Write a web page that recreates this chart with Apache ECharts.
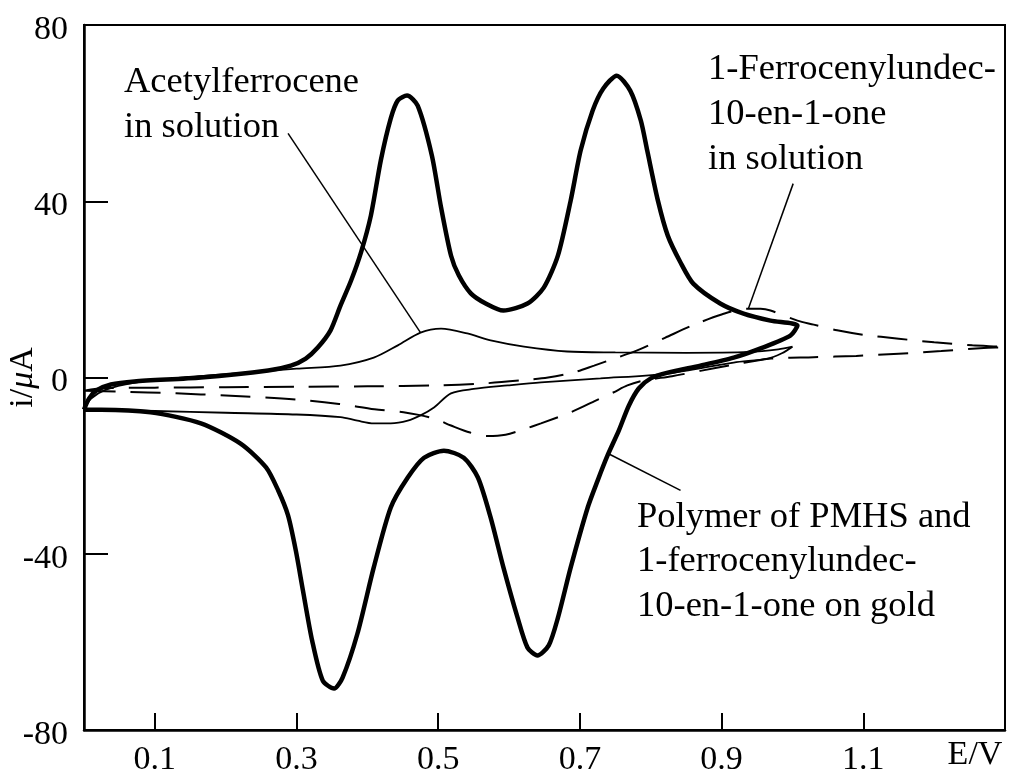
<!DOCTYPE html>
<html><head><meta charset="utf-8">
<script src="https://cdn.jsdelivr.net/npm/echarts@6/dist/echarts.min.js"></script>
<style>html,body{margin:0;padding:0;background:#fff}#c{width:1009px;height:776px}</style>
</head><body><div id="c"></div>
<script>
// ---- tick values ----
const xTicks = [0.1, 0.3, 0.5, 0.7, 0.9, 1.1];
const yTicks = [-80, -40, 0, 40, 80];

// ---- Polymer of PMHS and 1-ferrocenylundec-10-en-1-one on gold (thick) ----
const polyE = [0.000,0.007,0.017,0.038,0.071,0.165,0.260,0.292,0.313,0.330,0.348,0.362,0.377,0.391,0.405,0.419,0.433,0.443,0.456,0.471,0.491,0.504,0.518,0.529,0.546,0.567,0.592,0.626,0.649,0.669,0.687,0.701,0.718,0.733,0.752,0.771,0.786,0.795,0.810,0.824,0.842,0.860,0.898,0.931,0.969,1.007,
               0.997,0.955,0.917,0.870,0.824,0.800,0.783,0.769,0.755,0.739,0.725,0.711,0.687,0.669,0.656,0.640,0.626,0.612,0.592,0.574,0.556,0.536,0.508,0.480,0.457,0.433,0.409,0.386,0.365,0.353,0.337,0.322,0.309,0.299,0.288,0.274,0.257,0.221,0.165,0.094,0.024,0.000];
const polyI = [-7.3,-4.8,-3.0,-1.6,-0.9,0.0,1.6,2.7,4.3,6.8,10.7,16.3,22.0,28.4,36.8,49.3,58.8,62.9,64.0,61.7,50.4,38.6,27.7,23.2,19.1,16.8,15.2,16.8,20.4,27.7,40.2,51.5,60.6,65.6,68.5,65.1,58.3,51.5,40.2,32.2,26.1,21.3,16.8,14.5,12.9,11.8,
               9.5,6.6,4.5,2.7,1.1,-0.2,-2.5,-6.4,-12.0,-17.7,-23.4,-29.5,-43.1,-54.5,-60.8,-63.1,-61.3,-54.5,-43.1,-31.8,-22.7,-18.2,-16.6,-18.2,-22.7,-29.5,-43.1,-58.1,-68.1,-70.6,-68.8,-59.7,-48.3,-39.3,-31.3,-25.6,-20.4,-15.0,-10.4,-7.9,-7.3,-7.3];

// ---- Acetylferrocene in solution (thin solid) ----
const acE = [0.000,0.010,0.030,0.070,0.140,0.220,0.300,0.362,0.409,0.443,0.475,0.504,0.541,0.574,0.621,0.682,0.750,0.850,0.940,0.980,1.000,
             0.985,0.965,0.917,0.824,0.729,0.645,0.598,0.550,0.518,0.494,0.475,0.457,0.433,0.409,0.386,0.362,0.300,0.200,0.100,0.030,0.000];
const acI = [-7.2,-4.8,-2.8,-1.2,0.0,1.0,2.0,2.7,4.5,7.3,10.2,11.1,10.0,8.4,7.0,5.9,5.7,5.6,5.8,6.4,7.0,
             5.5,4.3,3.4,0.9,-0.2,-1.1,-1.8,-2.6,-3.6,-6.8,-8.6,-9.8,-10.4,-10.4,-9.8,-9.0,-8.4,-8.0,-7.6,-7.3,-7.2];

// ---- 1-Ferrocenylundec-10-en-1-one in solution (dashed) ----
const fcE = [0.000,0.030,0.100,0.200,0.300,0.400,0.500,0.560,0.620,0.655,0.690,0.720,0.750,0.780,0.820,0.860,0.900,0.935,0.955,0.969,1.007,1.030,1.063,1.100,1.150,1.200,1.254,1.300,
             1.270,1.210,1.150,1.090,1.030,0.970,0.920,0.870,0.830,0.790,0.767,0.747,0.720,0.687,0.645,0.620,0.595,0.570,0.545,0.518,0.494,0.451,0.410,0.360,0.300,0.200,0.130,0.050,0.000];
const fcI = [-3.0,-2.4,-2.3,-2.2,-2.1,-2.0,-1.8,-1.4,-0.6,0.0,1.1,2.7,4.4,6.1,9.0,11.9,14.3,15.6,15.6,15.2,12.9,12.0,10.7,9.7,8.8,8.0,7.3,6.9,
             6.7,6.0,5.4,4.9,4.6,4.3,3.0,1.5,0.3,-0.7,-1.8,-3.4,-5.4,-7.9,-10.4,-11.8,-13.0,-13.3,-12.5,-10.9,-9.3,-7.9,-7.2,-6.0,-5.0,-4.1,-3.6,-3.2,-3.0];

// ---- leader lines (E, i) ----
const leadAcE = [0.288, 0.475], leadAcI = [55.4, 10.2];
const leadFcE = [1.001, 0.938], leadFcI = [44.0, 15.7];
const leadPoE = [0.739, 0.842], leadPoI = [-17.2, -25.6];

// ---- annotation texts ----
const txtAc = 'Acetylferrocene\nin solution';
const txtFc = '1-Ferrocenylundec-\n10-en-1-one\nin solution';
const txtPo = 'Polymer of PMHS and\n1-ferrocenylundec-\n10-en-1-one on gold';

const zip = (a, b) => a.map((v, k) => [v, b[k]]);
const FONT = '"Liberation Serif", "Times New Roman", serif';
const FS = 34;
const AFS = 36.5;

const chart = echarts.init(document.getElementById('c'), null, {renderer: 'canvas'});
chart.setOption({
  animation: false,
  backgroundColor: '#fff',
  grid: {left: 84, right: 4, top: 25, bottom: 46, outerBoundsMode: 'none', containLabel: false,
         show: true, borderColor: '#000', borderWidth: 2, backgroundColor: 'transparent'},
  xAxis: {
    type: 'value', min: 0, max: 1.3,
    name: 'E/V', nameLocation: 'end', nameGap: -30, nameMoveOverlap: false,
    nameTextStyle: {fontFamily: FONT, fontSize: FS, color: '#000', align: 'center', verticalAlign: 'top', padding: [8, 0, 0, 0]},
    axisLine: {show: true, onZero: false, lineStyle: {color: '#000', width: 2.5}},
    axisTick: {show: true, inside: true, length: 17, customValues: xTicks, lineStyle: {color: '#000', width: 2}},
    axisLabel: {customValues: xTicks, margin: 13, fontFamily: FONT, fontSize: FS, color: '#000', formatter: v => String(v)},
    splitLine: {show: false}
  },
  yAxis: {
    type: 'value', min: -80, max: 80, interval: 40,
    name: '{a|i/}{b|μ}{a|A}', nameLocation: 'middle', nameGap: 44, nameRotate: 90, nameMoveOverlap: false,
    nameTextStyle: {rich: {a: {fontFamily: FONT, fontSize: FS, color: '#000'}, b: {fontFamily: FONT, fontSize: FS, color: '#000', fontStyle: 'italic'}}},
    axisLine: {show: true, onZero: false, lineStyle: {color: '#000', width: 2.5}},
    axisTick: {show: true, inside: true, length: 24, lineStyle: {color: '#000', width: 2}},
    axisLabel: {margin: 16, fontFamily: FONT, fontSize: FS, color: '#000', verticalAlign: 'top', lineHeight: 10},
    splitLine: {show: false}
  },
  series: [
    {type: 'line', name: 'polymer', data: zip(polyE, polyI), showSymbol: false, smooth: 0.25,
     lineStyle: {color: '#000', width: 4.5}, z: 3},
    {type: 'line', name: 'acetyl', data: zip(acE, acI), showSymbol: false, smooth: 0.3,
     lineStyle: {color: '#000', width: 1.8}, z: 2},
    {type: 'line', name: 'fc', data: zip(fcE, fcI), showSymbol: false, smooth: 0.3,
     lineStyle: {color: '#000', width: 2, type: [30, 15]}, z: 2},
    {type: 'line', data: zip(leadAcE, leadAcI), showSymbol: false, lineStyle: {color: '#000', width: 1.5}},
    {type: 'line', data: zip(leadFcE, leadFcI), showSymbol: false, lineStyle: {color: '#000', width: 1.5}},
    {type: 'line', data: zip(leadPoE, leadPoI), showSymbol: false, lineStyle: {color: '#000', width: 1.5}}
  ],
  graphic: [
    {type: 'text', left: 124, top: 60, style: {text: txtAc, font: AFS + 'px ' + FONT, lineHeight: 45, fill: '#000'}},
    {type: 'text', left: 708, top: 47, style: {text: txtFc, font: AFS + 'px ' + FONT, lineHeight: 45, fill: '#000'}},
    {type: 'text', left: 637, top: 495, style: {text: txtPo, font: AFS + 'px ' + FONT, lineHeight: 44.5, fill: '#000'}}
  ]
});
</script></body></html>
